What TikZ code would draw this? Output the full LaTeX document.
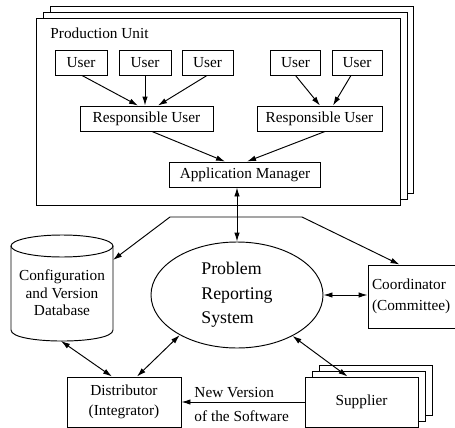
\documentclass[tikz,border=0pt]{standalone}
\usepackage{fontspec}
\setmainfont{Liberation Serif}
\usetikzlibrary{arrows.meta,shapes.geometric,calc}
\begin{document}
\begin{tikzpicture}[x=1pt,y=-1pt,line width=0.95pt,
  >={Latex[length=9pt,width=5.5pt]},
  txt/.style={font=\fontsize{15.3pt}{17pt}\selectfont},
  box/.style={draw,fill=white,inner sep=0pt,align=center,txt},
  lay/.style={draw,fill=white}]
\useasboundingbox (0,0) rectangle (455,428);
\clip (0,0) rectangle (455,428);

% Production unit stack
\draw[lay] (50,6) rectangle (413,193);
\draw[lay] (43,12) rectangle (407,199);
\draw[lay] (36,18) rectangle (400,205);
\node[txt,anchor=west,inner sep=0pt] (PUL) at (50,33) {Production Unit};

\node[box,minimum width=52pt,minimum height=25pt] (U1) at (81,62.5) {User};
\node[box,minimum width=52pt,minimum height=25pt] (U2) at (145,62.5) {User};
\node[box,minimum width=51pt,minimum height=25pt] (U3) at (207.5,62.5) {User};
\node[box,minimum width=50pt,minimum height=25pt] (U4) at (295.5,62.5) {User};
\node[box,minimum width=50pt,minimum height=25pt] (U5) at (357,62.5) {User};

\node[box,minimum width=133pt,minimum height=25pt] (RU1) at (146.5,118.5) {Responsible User};
\node[box,minimum width=125pt,minimum height=25pt] (RU2) at (319.5,118.5) {Responsible User};

\node[box,minimum width=151pt,minimum height=25pt] (AM) at (245,174.5) {Application Manager};

\draw[->] ($(U1.south)+(1,0)$) -- ($(RU1.north)+(-8.5,0)$);
\draw[->] (U2.south) -- (U2.south |- RU1.north);
\draw[->] ($(U3.south)+(-0.5,0)$) -- ($(RU1.north)+(11.5,0)$);
\draw[->] (U4.south) -- ($(RU2.north)+(0.5,0)$);
\draw[->] ($(U5.south)+(-6,0)$) -- ($(RU2.north)+(13.5,0)$);
\draw[->] ($(RU1.south)+(5.5,0)$) -- ($(AM.north)+(-20,0)$);
\draw[->] ($(RU2.south)+(5.5,0)$) -- ($(AM.north)+(2,0)$);

% Problem Reporting System
\node[draw,ellipse,minimum width=172pt,minimum height=106pt,inner sep=0pt,align=left,
  font=\fontsize{17.8pt}{24.5pt}\selectfont] (PRS) at (237,295) {Problem\\Reporting\\System};
\draw[<->] (AM.south -| PRS.north) -- (PRS.north);

% Database cylinder
\draw (62,246) ellipse [x radius=51pt,y radius=11pt];
\draw (11,246) -- (11,330) .. controls (11,344.7) and (113,344.7) .. (113,330) -- (113,246);
\node[inner sep=0pt,align=center,font=\fontsize{15.3pt}{17.5pt}\selectfont] (DB) at (62,293)
  {Configuration\\and Version\\Database};
\coordinate (dbR) at (113,260);
\coordinate (dbB) at (61,341);

% Coordinator
\node[box,minimum width=100pt,minimum height=63pt,text width=92pt,align=left,
  font=\fontsize{15.3pt}{21pt}\selectfont] (Coord) at (418,296.5) {Coordinator\\(Committee)};

\coordinate (hl) at (170,217);
\coordinate (hr) at (302,217);
\draw[<->] (dbR) -- (hl) -- (hr) -- ($(Coord.north west)+(32,0)$);
\draw[<->] (PRS.east) -- (PRS.east -| Coord.west);

% Distributor
\node[box,minimum width=114pt,minimum height=50pt,font=\fontsize{15.3pt}{20pt}\selectfont]
  (Dist) at (124,402) {Distributor\\(Integrator)};
\draw[<->] (dbB) -- ($(Dist.north)+(-12,0)$);
\draw[<->] (PRS.215) -- ($(Dist.north)+(13,0)$);

% Supplier stack
\draw[lay] (319,365) rectangle (432,415);
\draw[lay] (312,371) rectangle (425,421);
\node[box,minimum width=113pt,minimum height=50pt] (Sup) at (361.5,402) {Supplier};
\draw[<->] (PRS) -- ($(Sup.north)+(-14,0)$);

\draw[->] (Sup.west) -- (Dist.east);
\node[anchor=west,inner sep=0pt,align=left,font=\fontsize{15.3pt}{24pt}\selectfont] (NV)
  at (194,405) {New Version\\of the Software};
\end{tikzpicture}
\end{document}
